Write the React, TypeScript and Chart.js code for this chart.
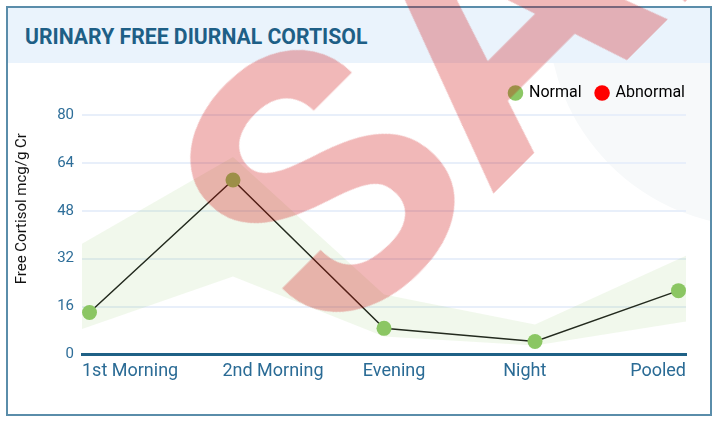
import React, { useEffect, useRef } from "react";
import { Chart, registerables } from "chart.js";

Chart.register(...registerables);

const titleText = "URINARY FREE DIURNAL CORTISOL";
const yAxisTitle = "Free Cortisol mcg/g Cr";
const categories = ["1st Morning", "2nd Morning", "Evening", "Night", "Pooled"];
const cortisolValues = [14, 58.3, 8.7, 4.3, 21.3];
const rangeUpper = [37, 66, 20, 10, 33];
const rangeLower = [8.5, 26, 6, 3, 11];
const yTicks = [0, 16, 32, 48, 64, 80];
const legendLabels = ["Normal", "Abnormal"];
const legendColors = ["#8bc764", "#ff0000"];
const watermarkText = "SAMPLE";

const FONT = "Roboto, 'Noto Sans', sans-serif";
const LEGEND_PAD = 15;

const clampPointsPlugin = {
  id: "clampPoints",
  beforeDatasetsDraw(chart: any) {
    const { left, right } = chart.chartArea;
    chart.data.datasets.forEach((ds: any, i: number) => {
      if (!ds.clampPoints) return;
      const meta = chart.getDatasetMeta(i);
      meta.data.forEach((p: any) => {
        const r = (p.options && p.options.radius) || 0;
        p.x = Math.min(Math.max(p.x, left + r), right - r);
      });
    });
  },
};

const legendEdgePlugin = {
  id: "legendEdge",
  beforeLayout(chart: any) {
    const lg = chart.legend;
    if (lg && !lg.__patched) {
      lg.__patched = true;
      const of = lg.fit;
      lg.fit = function () {
        of.call(this);
        this.height += 4;
      };
    }
  },
  afterLayout(chart: any) {
    const lg = chart.legend;
    if (lg) {
      lg.left += LEGEND_PAD - 1;
      lg.right += LEGEND_PAD - 1;
    }
  },
};

const yTitlePlugin = {
  id: "yTitle",
  afterDraw(chart: any) {
    const ctx = chart.ctx;
    const ys = chart.scales.y;
    const cy = chart.chartArea.bottom / 2;
    const cx = ys.left + 14;
    ctx.save();
    ctx.translate(cx, cy);
    ctx.rotate(-Math.PI / 2);
    ctx.font = `15px ${FONT}`;
    ctx.fillStyle = "#111111";
    ctx.textAlign = "center";
    ctx.textBaseline = "middle";
    ctx.fillText(yAxisTitle, 0, 0);
    ctx.restore();
  },
};

function patchLabels(scale: any) {
  scale.paddingLeft = 0;
  scale.paddingRight = 0;
  if (scale.__patched) return;
  scale.__patched = true;
  const orig = scale._computeLabelItems;
  scale._computeLabelItems = function (ca: any) {
    const items = orig.call(this, ca);
    const n = items.length;
    const step = this.chart.width / n;
    const ctx = this.ctx;
    items.forEach((it: any, i: number) => {
      ctx.save();
      ctx.font = it.font.string;
      const w = ctx.measureText(String(it.label)).width;
      ctx.restore();
      const x = Math.min(this.left + i * step, this.right - w);
      it.options.translation = [x, it.options.translation[1]];
      it.options.textAlign = "left";
    });
    return items;
  };
}

function ChartCard() {
  const ref = useRef<HTMLCanvasElement | null>(null);
  useEffect(() => {
    if (!ref.current) return;
    Chart.defaults.font.family = FONT;
    const chart = new Chart(ref.current, {
      type: "line",
      data: {
        labels: categories,
        datasets: [
          {
            label: "lower",
            data: rangeLower,
            borderWidth: 0,
            pointRadius: 0,
            fill: false,
            backgroundColor: "transparent",
            borderColor: "transparent",
          } as any,
          {
            label: "upper",
            data: rangeUpper,
            borderWidth: 0,
            pointRadius: 0,
            fill: "-1",
            backgroundColor: "rgba(140,199,100,0.12)",
            borderColor: "transparent",
          } as any,
          {
            label: "Cortisol",
            data: cortisolValues,
            borderColor: "#151515",
            borderWidth: 1.5,
            pointRadius: 7.5,
            pointBorderWidth: 0,
            pointBackgroundColor: legendColors[0],
            pointBorderColor: legendColors[0],
            fill: false,
            tension: 0,
            clip: false,
            clampPoints: true,
          } as any,
        ],
      },
      options: {
        animation: false,
        responsive: false,
        maintainAspectRatio: false,
        layout: { padding: { left: 0, right: 24, top: 7, bottom: 26 } },
        plugins: {
          tooltip: { enabled: false },
          legend: {
            display: true,
            position: "top",
            align: "end",
            onClick: () => {},
            labels: {
              usePointStyle: true,
              boxWidth: 11,
              boxHeight: 11,
              padding: LEGEND_PAD,
              color: "#1c1c1c",
              font: { size: 16, family: FONT },
              generateLabels: () =>
                legendLabels.map((t, i) => ({
                  text: t,
                  fillStyle: legendColors[i],
                  strokeStyle: legendColors[i],
                  lineWidth: 0,
                  pointStyle: "circle",
                  hidden: false,
                  datasetIndex: i,
                })),
            },
          },
        },
        scales: {
          x: {
            type: "category",
            offset: false,
            grid: { display: false, drawTicks: false },
            border: { display: true, color: "#1f6186", width: 3 },
            ticks: {
              align: "inner",
              color: "#2a6b95",
              padding: 6,
              maxRotation: 0,
              autoSkip: false,
              font: { size: 18, family: FONT },
            },
            afterFit: patchLabels,
          } as any,
          y: {
            min: yTicks[0],
            max: yTicks[yTicks.length - 1],
            afterBuildTicks: (s: any) => {
              s.ticks = yTicks.map((v) => ({ value: v }));
            },
            grid: { color: "#e8effa", lineWidth: 2, drawTicks: false },
            border: { display: false },
            ticks: {
              color: "#2e6e99",
              padding: 8,
              font: { size: 15, family: FONT },
            },
            title: { display: false },
            afterFit: (s: any) => {
              s.width = 74;
            },
          } as any,
        },
      },
      plugins: [clampPointsPlugin, legendEdgePlugin, yTitlePlugin],
    } as any);
    return () => chart.destroy();
  }, []);

  return (
    <div
      style={{
        position: "absolute",
        left: 6,
        top: 6,
        width: 706,
        height: 410,
        boxSizing: "border-box",
        border: "2px solid #5a8daa",
        background: "#ffffff",
        overflow: "hidden",
      }}
    >
      <div
        style={{
          height: 55,
          background: "#eaf3fc",
          display: "flex",
          alignItems: "center",
          paddingLeft: 17,
          paddingTop: 1,
          boxSizing: "border-box",
        }}
      >
        <span
          style={{
            fontFamily: FONT,
            fontWeight: 700,
            fontSize: 21.2,
            color: "#1e5f86",
          }}
        >
          {titleText}
        </span>
      </div>
      <div style={{ position: "relative", width: 702, height: 351, overflow: "hidden" }}>
        <div
          style={{
            position: "absolute",
            left: 540,
            top: -260,
            width: 424,
            height: 424,
            borderRadius: "50%",
            background: "#f7f9fa",
          }}
        />
        <canvas
          ref={ref}
          width={702}
          height={351}
          style={{ position: "relative", display: "block", width: 702, height: 351 }}
        />
      </div>
    </div>
  );
}

export default function App() {
  return (
    <div
      style={{
        position: "fixed",
        left: 0,
        top: 0,
        width: 712,
        height: 423,
        overflow: "hidden",
        background: "#ffffff",
      }}
    >
      <ChartCard />
      <div
        style={{
          position: "absolute",
          left: 205,
          top: 5,
          fontFamily: FONT,
          fontWeight: 700,
          fontSize: 370,
          lineHeight: 1,
          whiteSpace: "nowrap",
          color: "rgb(205,0,0)",
          opacity: 0.28,
          transformOrigin: "111px 178px",
          transform: "rotate(-45deg)",
          pointerEvents: "none",
        }}
      >
        {watermarkText}
      </div>
    </div>
  );
}
